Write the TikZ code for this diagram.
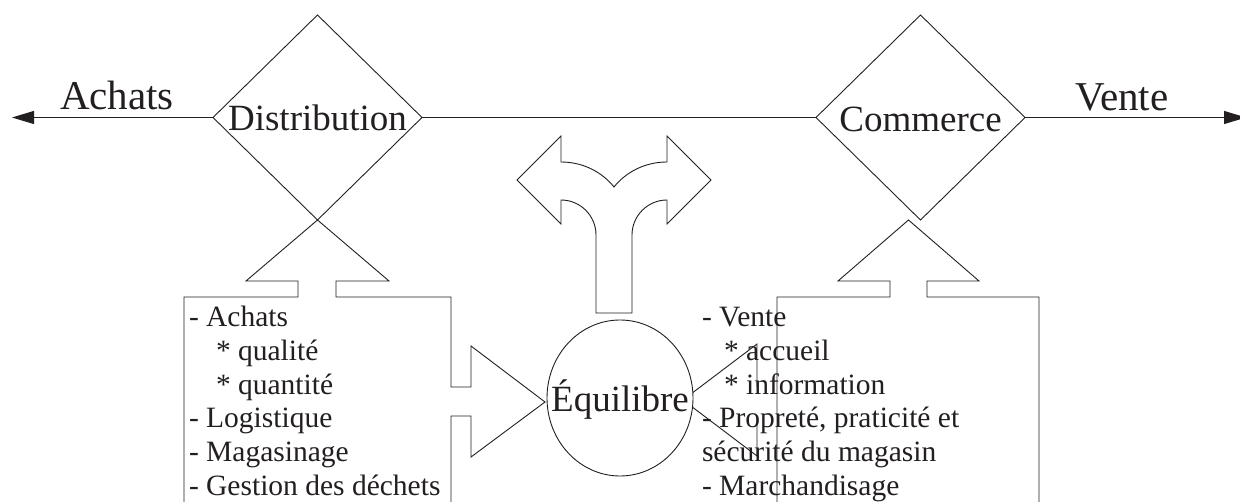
\documentclass[tikz,border=0pt]{standalone}
\usepackage{fontspec}
\setmainfont{Liberation Serif}
\usetikzlibrary{shapes.geometric,arrows.meta}
\definecolor{ink}{RGB}{35,31,32}
\begin{document}
\begin{tikzpicture}[x=1pt,y=-1pt,line width=0.9pt,color=ink,line join=miter,
  boxtext/.style={inner sep=0pt,outer sep=0pt,font=\fontsize{29.5}{33.6}\selectfont,anchor=base west},
  bigtext/.style={inner sep=0pt,outer sep=0pt,font=\fontsize{41}{48}\selectfont,anchor=base west},
  midtext/.style={inner sep=0pt,outer sep=0pt,font=\fontsize{37}{44}\selectfont,anchor=base},
  dshape/.style={diamond,draw,inner sep=0pt,outer sep=0pt,minimum width=209pt,minimum height=205pt},
  endarrow/.style={-{Triangle[length=22pt,width=13pt]}}]
\fill[white] (0,0) rectangle (1240,502);
\useasboundingbox (0,0) rectangle (1240,502);

% diamonds
\node[dshape] (dist) at (317.5,117.5) {};
\node[dshape] (comm) at (920.5,117.5) {};
\coordinate (lend) at (12,117.5);
\coordinate (rend) at (1246,117.5);
\draw[endarrow] (dist.west) -- (lend);
\draw (dist.east) -- (comm.west);
\draw[endarrow] (comm.east) -- (rend);

\node[bigtext] (achats) at (60,110) {Achats};
\node[bigtext] (vente) at (1075,111) {Vente};
\node[midtext] (disttxt) at (317.5,130.5) {Distribution};
\node[midtext] (commtxt) at (920.5,132) {Commerce};

% left box with up arrow and right arrow
\draw (184,505) -- (184,297) -- (298,297) -- (298,281) -- (246,281) -- (317.5,220)
  -- (389,281) -- (336,281) -- (336,297) -- (451,297) -- (451,387) -- (471,387)
  -- (471,346) -- (545,402) -- (471,457) -- (471,416) -- (451,416) -- (451,505);

% right box with up arrow
\draw (777,505) -- (777,297) -- (890,297) -- (890,281) -- (838,281) -- (908.5,220)
  -- (979,281) -- (927,281) -- (927,297) -- (1039,297) -- (1039,505);
% left-pointing arrow head from right box
\draw (757,387) -- (757,344) -- (683,400) -- (757,456) -- (757,416);

% fork arrow
\draw (596,313) -- (596,235) .. controls (596,215.7) and (580.3,200) .. (561,200)
  -- (561,224) -- (517,180) -- (561,136) -- (561,162)
  .. controls (583,162) and (602,172) .. (614,187)
  .. controls (626,172) and (645,162) .. (667,162)
  -- (667,136) -- (711,180) -- (667,224) -- (667,200)
  .. controls (647.7,200) and (632,215.7) .. (632,235) -- (632,313) -- cycle;

% equilibre
\node[ellipse,draw,fill=white,inner sep=0pt,outer sep=0pt,minimum width=146pt,minimum height=156pt] (eq) at (620,398) {};
\node[midtext] (eqtxt) at (620,412) {Équilibre};

% left box text
\node[boxtext] (l1) at (189,327) {- Achats};
\node[boxtext] (l2) at (216,360.6) {* qualité};
\node[boxtext] (l3) at (216,394.2) {* quantité};
\node[boxtext] (l4) at (189,427.8) {- Logistique};
\node[boxtext] (l5) at (189,461.4) {- Magasinage};
\node[boxtext] (l6) at (189,495) {- Gestion des déchets};

% right box text
\node[boxtext] (r1) at (702,327) {- Vente};
\node[boxtext] (r2) at (724,360.6) {* accueil};
\node[boxtext] (r3) at (724,394.2) {* information};
\node[boxtext] (r4) at (702,427.8) {- Propreté, praticité et};
\node[boxtext] (r5) at (702,461.4) {sécurité du magasin};
\node[boxtext] (r6) at (702,495) {- Marchandisage};
\end{tikzpicture}
\end{document}
